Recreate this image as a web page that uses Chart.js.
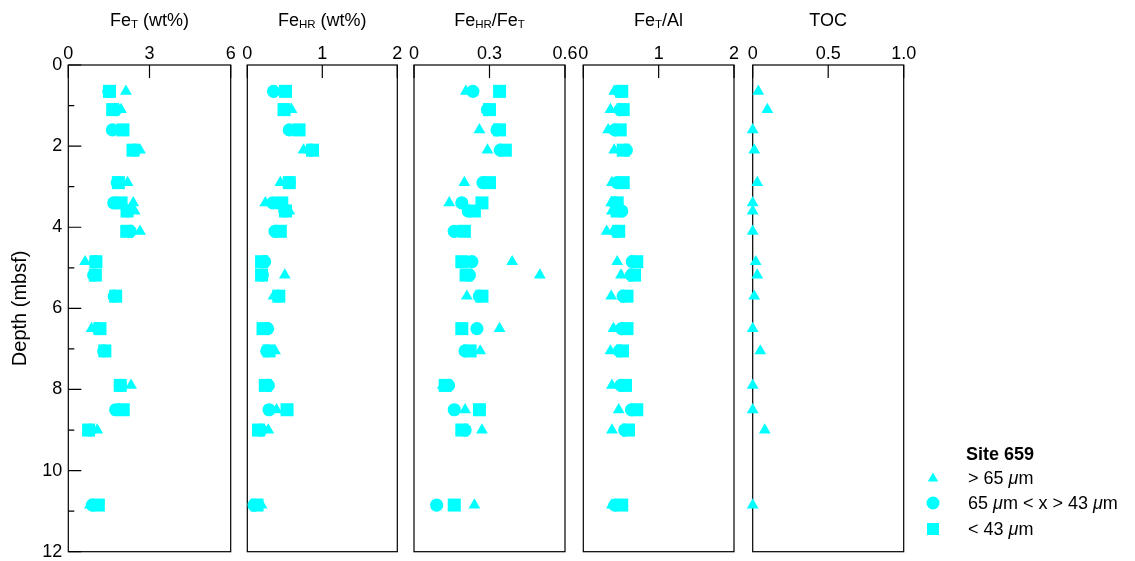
<!DOCTYPE html>
<html><head><meta charset="utf-8">
<script src="https://cdn.jsdelivr.net/npm/chart.js@4.4.1/dist/chart.umd.min.js"></script>
<style>
html,body{margin:0;padding:0;background:#fff;}
#wrap{position:relative;width:1135px;height:561px;overflow:hidden;font-family:'Liberation Sans',Arial,sans-serif;color:#000;}
#wrap canvas{position:absolute;left:0;top:0;pointer-events:none;}
.ttl{position:absolute;top:11px;font-size:18px;line-height:18px;white-space:nowrap;transform:translateX(-50%);}
.ttl .s{font-size:11.5px;vertical-align:-2px;line-height:0;}
.lg{position:absolute;font-size:18px;line-height:18px;white-space:nowrap;}
</style></head>
<body>
<div id="wrap">
  <canvas id="c1" width="1135" height="561"></canvas>
  <canvas id="c2" width="1135" height="561"></canvas>
  <canvas id="c3" width="1135" height="561"></canvas>
  <canvas id="c4" width="1135" height="561"></canvas>
  <canvas id="c5" width="1135" height="561"></canvas>
  <div class="ttl" style="left:149.5px">Fe<span class="s">T</span> (wt%)</div>
  <div class="ttl" style="left:322.3px">Fe<span class="s">HR</span> (wt%)</div>
  <div class="ttl" style="left:489.5px">Fe<span class="s">HR</span>/Fe<span class="s">T</span></div>
  <div class="ttl" style="left:658.5px">Fe<span class="s">T</span>/Al</div>
  <div class="ttl" style="left:828.2px">TOC</div>
  <svg style="position:absolute;left:920px;top:465px" width="30" height="80">
    <polygon points="13,7.5 18.2,16.5 7.8,16.5" fill="#00FFFF"/>
    <circle cx="13" cy="38" r="6.5" fill="#00FFFF"/>
    <rect x="7" y="58" width="12" height="12" fill="#00FFFF"/>
  </svg>
  <div class="lg" style="left:966px;top:445px;font-weight:bold">Site 659</div>
  <div class="lg" style="left:968px;top:469px">&gt; 65 <i>μ</i>m</div>
  <div class="lg" style="left:968px;top:494px">65 <i>μ</i>m &lt; x &gt; 43 <i>μ</i>m</div>
  <div class="lg" style="left:968px;top:520px">&lt; 43 <i>μ</i>m</div>
</div>
<script>
// ---- data (depth in mbsf) ----
const depth = [0.65, 1.1, 1.6, 2.1, 2.9, 3.4, 3.6, 4.1, 4.85, 5.18, 5.7, 6.5, 7.05, 7.9, 8.5, 9.0, 10.85];

// Fe_T (wt%)
const feT_gt65   = [2.13, 1.95, 2.0, 2.65, 2.19, 2.40, 2.45, 2.65, 0.62, 1.0, 1.7, 0.86, 1.3, 2.32, 1.9, 1.07, 0.8];
const feT_mid    = [1.5, 1.75, 1.63, 2.45, 1.81, 1.68, 2.2, 2.28, 1.0, 0.94, 1.70, 1.1, 1.31, 1.92, 1.75, 0.8, 0.89];
const feT_lt43   = [1.52, 1.64, 2.02, 2.39, 1.85, 1.95, 2.17, 2.16, 1.02, 1.0, 1.75, 1.17, 1.35, 1.92, 2.03, 0.75, 1.11];

// Fe_HR (wt%)
const feHR_gt65  = [0.5, 0.59, 0.65, 0.75, 0.44, 0.24, 0.56, 0.4, 0.2, 0.50, 0.35, 0.25, 0.37, 0.26, 0.39, 0.28, 0.19];
const feHR_mid   = [0.35, 0.5, 0.56, 0.85, 0.56, 0.34, 0.5, 0.37, 0.23, 0.2, 0.41, 0.27, 0.26, 0.28, 0.29, 0.18, 0.09];
const feHR_lt43  = [0.51, 0.49, 0.69, 0.87, 0.56, 0.46, 0.51, 0.44, 0.19, 0.19, 0.42, 0.21, 0.29, 0.24, 0.53, 0.15, 0.13];

// Fe_HR / Fe_T
const ratio_gt65 = [0.206, 0.29, 0.26, 0.292, 0.20, 0.14, 0.22, 0.17, 0.39, 0.50, 0.21, 0.34, 0.263, 0.114, 0.203, 0.27, 0.24];
const ratio_mid  = [0.234, 0.292, 0.33, 0.343, 0.274, 0.19, 0.216, 0.16, 0.23, 0.22, 0.26, 0.25, 0.203, 0.137, 0.16, 0.203, 0.09];
const ratio_lt43 = [0.34, 0.30, 0.34, 0.363, 0.30, 0.27, 0.24, 0.20, 0.19, 0.207, 0.27, 0.19, 0.223, 0.124, 0.26, 0.19, 0.16];

// Fe_T / Al
const feAl_gt65  = [0.41, 0.36, 0.33, 0.41, 0.38, 0.37, 0.38, 0.31, 0.45, 0.50, 0.37, 0.40, 0.36, 0.38, 0.47, 0.38, 0.38];
const feAl_mid   = [0.48, 0.49, 0.42, 0.57, 0.45, 0.42, 0.51, 0.44, 0.65, 0.64, 0.53, 0.51, 0.48, 0.50, 0.64, 0.55, 0.42];
const feAl_lt43  = [0.51, 0.53, 0.49, 0.53, 0.53, 0.45, 0.45, 0.47, 0.71, 0.68, 0.58, 0.58, 0.52, 0.56, 0.71, 0.60, 0.51];

// TOC (> 65 µm only)
const toc_gt65   = [0.037, 0.097, 0.0, 0.01, 0.03, 0.0, 0.0, 0.0, 0.02, 0.03, 0.01, 0.0, 0.05, 0.0, 0.0, 0.08, 0.0];

// ---- tick values / labels ----
const yMajorTicks = [0, 2, 4, 6, 8, 10, 12];
const yMinorTicks = [1, 3, 5, 7, 9, 11];
const xTicksFeT   = [0, 3, 6];      const xLabelsFeT   = ['0', '3', '6'];
const xTicksFeHR  = [0, 1, 2];      const xLabelsFeHR  = ['0', '1', '2'];
const xTicksRatio = [0, 0.3, 0.6];  const xLabelsRatio = ['0', '0.3', '0.6'];
const xTicksFeAl  = [0, 1, 2];      const xLabelsFeAl  = ['0', '1', '2'];
const xTicksTOC   = [0, 0.5, 1.0];  const xLabelsTOC   = ['0', '0.5', '1.0'];

const CYAN = '#00FFFF';
const FONT = "'Liberation Sans', Arial, sans-serif";
const W = 1135, TOP = 65, BOTTOM = 551.7;

const frameTicks = {
  id: 'frameTicks',
  beforeDatasetsDraw(chart, args, opts) {
    const {ctx, chartArea: a, scales} = chart;
    ctx.save();
    ctx.strokeStyle = '#000';
    ctx.lineWidth = 1.2;
    ctx.strokeRect(a.left, a.top, a.right - a.left, a.bottom - a.top);
    ctx.beginPath();
    (opts.xTicks || []).forEach(v => {
      const px = scales.x.getPixelForValue(v);
      ctx.moveTo(px, a.top); ctx.lineTo(px, a.top + 13);
    });
    (opts.yMajor || []).forEach(v => {
      const py = scales.y.getPixelForValue(v);
      ctx.moveTo(a.left, py); ctx.lineTo(a.left + 13, py);
    });
    (opts.yMinor || []).forEach(v => {
      const py = scales.y.getPixelForValue(v);
      ctx.moveTo(a.left, py); ctx.lineTo(a.left + 6, py);
    });
    ctx.stroke();
    ctx.restore();
  }
};

function series(vals, style) {
  const radius = style === 'rect' ? 9.2 : (style === 'circle' ? 6.6 : 6.8);
  const order = style === 'rect' ? 1 : (style === 'circle' ? 2 : 3);
  return {
    data: depth.map((d, i) => ({x: vals[i], y: d})),
    pointStyle: style,
    pointRadius: radius,
    pointHoverRadius: radius,
    backgroundColor: CYAN,
    borderColor: CYAN,
    borderWidth: 0,
    showLine: false,
    clip: false,
    order: order
  };
}

function makePanel(id, left, right, xmin, xmax, xTicks, xLabels, sets, withY) {
  const ySc = {
    type: 'linear', reverse: true, min: 0, max: 12,
    display: !!withY,
    afterBuildTicks: s => { s.ticks = yMajorTicks.map(v => ({value: v})); },
    ticks: {
      color: '#000', padding: 6, font: {family: FONT, size: 18},
      callback: (v) => String(v)
    },
    grid: {display: false, drawTicks: false},
    border: {display: false},
    title: {display: !!withY, text: 'Depth (mbsf)', color: '#000',
            font: {family: FONT, size: 20}, padding: {top: 8, bottom: 0}},
    afterFit: s => {
      s.width = withY ? left : 0;
      s.paddingTop = 0; s.paddingBottom = 0;
    }
  };
  return new Chart(document.getElementById(id), {
    type: 'scatter',
    data: {datasets: sets},
    options: {
      responsive: false,
      animation: false,
      devicePixelRatio: 1,
      layout: {padding: {left: withY ? 0 : left, right: W - right, top: 0, bottom: 561 - BOTTOM}},
      plugins: {legend: {display: false}, tooltip: {enabled: false},
                frameTicks: {xTicks: xTicks, yMajor: withY ? yMajorTicks : [], yMinor: withY ? yMinorTicks : []}},
      scales: {
        x: {
          type: 'linear', position: 'top', min: xmin, max: xmax,
          afterBuildTicks: s => { s.ticks = xTicks.map(v => ({value: v})); },
          ticks: {color: '#000', padding: 0, maxRotation: 0, autoSkip: false,
                  font: {family: FONT, size: 18},
                  callback: (v, i) => xLabels[i]},
          grid: {display: false, drawTicks: false},
          border: {display: false},
          afterFit: s => { s.height = TOP; }
        },
        y: ySc
      }
    },
    plugins: [frameTicks]
  });
}

makePanel('c1', 68.3, 230.7, 0, 6, xTicksFeT, xLabelsFeT,
  [series(feT_gt65, 'triangle'), series(feT_mid, 'circle'), series(feT_lt43, 'rect')], true);
makePanel('c2', 247.3, 397.3, 0, 2, xTicksFeHR, xLabelsFeHR,
  [series(feHR_gt65, 'triangle'), series(feHR_mid, 'circle'), series(feHR_lt43, 'rect')], false);
makePanel('c3', 414, 565, 0, 0.6, xTicksRatio, xLabelsRatio,
  [series(ratio_gt65, 'triangle'), series(ratio_mid, 'circle'), series(ratio_lt43, 'rect')], false);
makePanel('c4', 583.3, 734, 0, 2, xTicksFeAl, xLabelsFeAl,
  [series(feAl_gt65, 'triangle'), series(feAl_mid, 'circle'), series(feAl_lt43, 'rect')], false);
makePanel('c5', 752.7, 903.7, 0, 1, xTicksTOC, xLabelsTOC,
  [series(toc_gt65, 'triangle')], false);
</script>
</body></html>
